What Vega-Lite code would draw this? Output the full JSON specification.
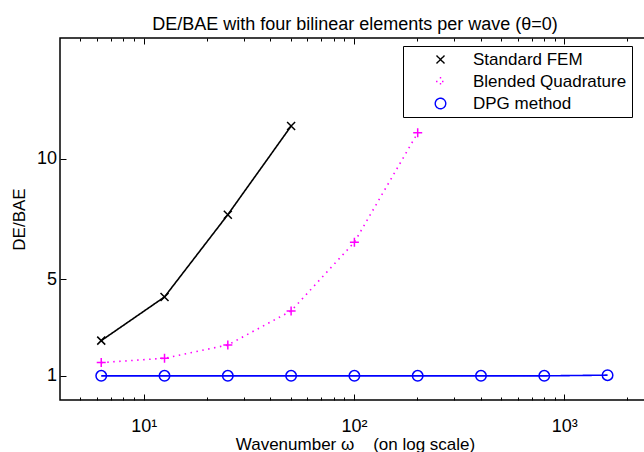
{
  "$schema": "https://vega.github.io/schema/vega-lite/v6.json",
  "autosize": {"type": "none"},
  "padding": {"left": 60, "top": 38, "right": 0, "bottom": 52},
  "width": 590,
  "height": 362,
  "background": "white",
  "title": {"text": "DE/BAE with four bilinear elements per wave (θ=0)", "fontSize": 18, "fontWeight": "normal", "font": "Liberation Sans", "anchor": "middle", "baseline": "alphabetic", "offset": -10, "color": "#000"},
  "config": {
    "font": "Liberation Sans",
    "view": {"stroke": "#000", "strokeWidth": 1.5},
    "axis": {"domain": false, "grid": false, "tickColor": "#000", "labelColor": "#000", "titleColor": "#000", "labelFontSize": 18, "titleFontSize": 17, "titleFontWeight": "normal", "tickWidth": 1}
  },
  "data": {"values": [
    {"series": "Standard FEM", "w": 6.2832, "r": 2.46},
    {"series": "Standard FEM", "w": 12.566, "r": 4.27},
    {"series": "Standard FEM", "w": 25.133, "r": 7.68},
    {"series": "Standard FEM", "w": 50.265, "r": 11.35},
    {"series": "Blended Quadrature", "w": 6.2832, "r": 1.55},
    {"series": "Blended Quadrature", "w": 12.566, "r": 1.73},
    {"series": "Blended Quadrature", "w": 25.133, "r": 2.28},
    {"series": "Blended Quadrature", "w": 50.265, "r": 3.69},
    {"series": "Blended Quadrature", "w": 100.53, "r": 6.54},
    {"series": "Blended Quadrature", "w": 201.06, "r": 11.07},
    {"series": "DPG method", "w": 6.2832, "r": 1.0},
    {"series": "DPG method", "w": 12.566, "r": 1.0},
    {"series": "DPG method", "w": 25.133, "r": 1.0},
    {"series": "DPG method", "w": 50.265, "r": 1.0},
    {"series": "DPG method", "w": 100.53, "r": 1.0},
    {"series": "DPG method", "w": 201.06, "r": 1.0},
    {"series": "DPG method", "w": 402.12, "r": 1.0},
    {"series": "DPG method", "w": 804.25, "r": 1.0},
    {"series": "DPG method", "w": 1608.5, "r": 1.03}
  ]},
  "resolve": {"axis": {"x": "independent", "y": "independent"}},
  "layer": [
    {
      "mark": {"type": "line", "strokeWidth": 1.6, "strokeCap": "butt"},
      "encoding": {
        "x": {"field": "w", "type": "quantitative", "scale": {"type": "log", "domain": [4, 2560], "nice": false},
              "axis": {"orient": "bottom", "values": [10, 100, 1000], "tickSize": -6, "labelPadding": 37, "labelBaseline": "alphabetic",
                       "labelExpr": "datum.value === 10 ? '10¹' : datum.value === 100 ? '10²' : '10³'",
                       "title": "Wavenumber ω\u00a0\u00a0\u00a0 (on log scale)", "titlePadding": 1}},
        "y": {"field": "r", "type": "quantitative", "scale": {"domain": [0, 15], "nice": false, "zero": false},
              "axis": {"orient": "left", "values": [1, 5, 10], "tickSize": -6, "labelPadding": 9.5, "title": "DE/BAE", "titlePadding": 8}},
        "color": {"field": "series", "type": "nominal", "scale": {"domain": ["Standard FEM", "Blended Quadrature", "DPG method"], "range": ["#000000", "#ff00ff", "#0000ff"]},
                  "legend": {"orient": "none", "legendX": 343, "legendY": 8, "title": null, "padding": 5, "strokeColor": "#000", "fillColor": "#fff", "cornerRadius": 0,
                             "labelFontSize": 17, "labelColor": "#000", "symbolSize": 100, "symbolStrokeWidth": 1.4, "symbolOffset": 24, "labelOffset": 24, "rowPadding": 4,
                             "encode": {"symbols": {"update": {"fill": {"value": "transparent"}, "strokeDash": {"value": [1, 0]},
                               "shape": {"value": {"expr": "datum.value === 'Standard FEM' ? 'M-5.2,0H5.2M-0.7,-0.7L0.7,0.7M-0.7,0.7L0.7,-0.7' : datum.value === 'Blended Quadrature' ? 'M-5.2,0h0.3M-4.0,0h0.3M-2.8,0h0.3M-1.6,0h0.3M1.3,0h0.3M2.5,0h0.3M3.7,0h0.3M4.9,0h0.3M-0.8,0H0.8M0,-0.8V0.8' : 'M-5.2,0H5.2M-0.9,0A0.9,0.9 0 1,0 0.9,0A0.9,0.9 0 1,0 -0.9,0'"}}}}}}},
        "strokeDash": {"field": "series", "type": "nominal", "scale": {"domain": ["Standard FEM", "Blended Quadrature", "DPG method"], "range": [[1, 0], [1.5, 4.5], [1, 0]]}, "legend": null}
      }
    },
    {
      "mark": {"type": "point", "filled": false, "strokeWidth": 1.5, "size": 100, "opacity": 1},
      "encoding": {
        "x": {"field": "w", "type": "quantitative", "axis": {"orient": "bottom", "values": [5, 6, 7, 8, 9, 20, 30, 40, 50, 60, 70, 80, 90, 200, 300, 400, 500, 600, 700, 800, 900, 2000], "tickSize": -3, "labels": false, "title": null}},
        "y": {"field": "r", "type": "quantitative", "axis": {"orient": "right", "values": [1, 5, 10], "tickSize": -6, "labels": false, "title": null}},
        "color": {"field": "series", "type": "nominal"},
        "shape": {"field": "series", "type": "nominal", "scale": {"domain": ["Standard FEM", "Blended Quadrature", "DPG method"], "range": ["M-0.8,-0.8L0.8,0.8M-0.8,0.8L0.8,-0.8", "M-0.9,0H0.9M0,-0.9V0.9", "M-1.05,0A1.05,1.05 0 1,0 1.05,0A1.05,1.05 0 1,0 -1.05,0"]}, "legend": null}
      }
    },
    {
      "mark": {"type": "point", "opacity": 0},
      "encoding": {
        "x": {"field": "w", "type": "quantitative", "axis": {"orient": "top", "values": [10, 100, 1000], "tickSize": -6, "labels": false, "title": null}},
        "y": {"field": "r", "type": "quantitative", "axis": null}
      }
    },
    {
      "mark": {"type": "point", "opacity": 0},
      "encoding": {
        "x": {"field": "w", "type": "quantitative", "axis": {"orient": "top", "values": [5, 6, 7, 8, 9, 20, 30, 40, 50, 60, 70, 80, 90, 200, 300, 400, 500, 600, 700, 800, 900, 2000], "tickSize": -3, "labels": false, "title": null}},
        "y": {"field": "r", "type": "quantitative", "axis": null}
      }
    }
  ]
}
